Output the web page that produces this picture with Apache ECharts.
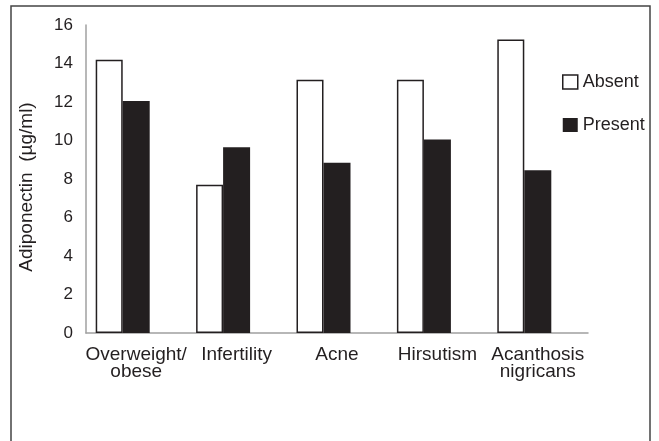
<!DOCTYPE html>
<html>
<head>
<meta charset="utf-8">
<script src="https://cdn.jsdelivr.net/npm/echarts@6/dist/echarts.min.js"></script>
<style>
  html, body { margin: 0; padding: 0; background: #fff; }
  #chart { width: 659px; height: 441px; }
</style>
</head>
<body>
<div id="chart"></div>
<script>
// 数据
var categories = ['Overweight/\nobese', 'Infertility', 'Acne', 'Hirsutism', 'Acanthosis\nnigricans'];
var absentValues = [14.2, 7.7, 13.15, 13.15, 15.25];
var presentValues = [12.05, 9.65, 8.85, 10.05, 8.45];
var yTicks = [0, 2, 4, 6, 8, 10, 12, 14, 16];

var dark = '#231f20';
var font = 'Liberation Sans, Arial, sans-serif';

var myChart = echarts.init(document.getElementById('chart'));

myChart.setOption({
    animation: false,
    backgroundColor: '#fff',
    textStyle: {fontFamily: font},
    // 外框
    graphic: [{
        type: 'rect',
        shape: {x: 11, y: 6, width: 639, height: 460},
        style: {fill: 'none', stroke: '#444', lineWidth: 1.5},
        silent: true
    }],
    grid: {left: 86, right: 71, top: 25, bottom: 108},
    legend: {
        orient: 'vertical',
        left: 557,
        top: 68,
        itemWidth: 15,
        itemHeight: 14,
        itemGap: 25,
        textStyle: {fontSize: 18, color: dark, fontFamily: font},
        data: [
            {name: 'Absent', icon: 'rect', itemStyle: {color: '#fff', borderColor: dark, borderWidth: 1.5}},
            {name: 'Present', icon: 'rect', itemStyle: {color: dark, borderWidth: 0}}
        ]
    },
    xAxis: {
        type: 'category',
        data: categories,
        axisLine: {lineStyle: {color: '#a0a0a0', width: 1.5}},
        axisTick: {show: false},
        axisLabel: {fontSize: 19, color: dark, margin: 13, lineHeight: 17, interval: 0}
    },
    yAxis: {
        type: 'value',
        min: yTicks[0],
        max: yTicks[yTicks.length - 1],
        interval: 2,
        name: 'Adiponectin  (µg/ml)',
        nameLocation: 'middle',
        nameGap: 50,
        nameTextStyle: {fontSize: 19, color: dark, padding: [0, 16, 0, 0]},
        axisLine: {show: true, lineStyle: {color: '#a0a0a0', width: 1.5}},
        axisTick: {show: false},
        splitLine: {show: false},
        axisLabel: {fontSize: 17, color: dark, margin: 13}
    },
    series: [
        {
            name: 'Absent',
            type: 'bar',
            barWidth: 27,
            barGap: 0,
            data: absentValues,
            itemStyle: {color: '#fff', borderColor: dark, borderWidth: 1.5}
        },
        {
            name: 'Present',
            type: 'bar',
            barWidth: 27,
            barGap: 0,
            data: presentValues,
            itemStyle: {color: dark}
        },
        {
            // 空的第三组 占位
            name: '',
            type: 'bar',
            barWidth: 27,
            barGap: 0,
            data: []
        }
    ]
});
</script>
</body>
</html>
